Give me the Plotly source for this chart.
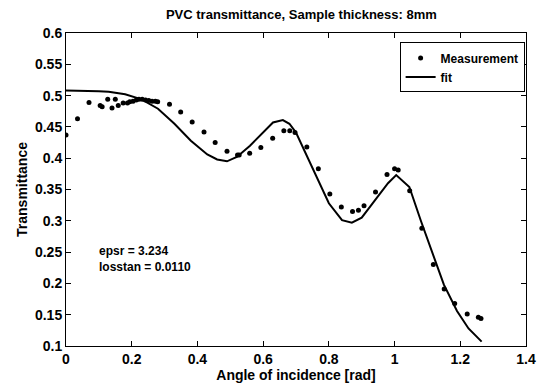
import plotly.graph_objects as go

# Measurement points
meas_x = [0.0, 0.035, 0.07, 0.104, 0.11, 0.127, 0.14, 0.15, 0.159, 0.174, 0.187, 0.194,
          0.204, 0.214, 0.222, 0.232, 0.242, 0.252, 0.262, 0.272, 0.279, 0.315, 0.349,
          0.384, 0.42, 0.454, 0.49, 0.522, 0.527, 0.559, 0.593, 0.629, 0.663, 0.681,
          0.697, 0.733, 0.768, 0.803, 0.838, 0.872, 0.89, 0.907, 0.942, 0.977, 1.0,
          1.011, 1.046, 1.083, 1.118, 1.151, 1.183, 1.221, 1.255, 1.263]
meas_y = [0.437, 0.463, 0.489, 0.484, 0.482, 0.494, 0.480, 0.494, 0.484, 0.488, 0.488, 0.490,
          0.491, 0.493, 0.494, 0.494, 0.493, 0.492, 0.491, 0.491, 0.490, 0.486, 0.474,
          0.458, 0.442, 0.425, 0.411, 0.405, 0.405, 0.408, 0.417, 0.432, 0.444, 0.444,
          0.441, 0.418, 0.383, 0.343, 0.322, 0.315, 0.317, 0.324, 0.346, 0.374, 0.383,
          0.381, 0.348, 0.288, 0.230, 0.191, 0.168, 0.151, 0.146, 0.144]

# Fit curve
fit_x = [0.0, 0.05, 0.1, 0.13, 0.18, 0.23, 0.28, 0.33, 0.38, 0.43, 0.46, 0.49, 0.52,
         0.56, 0.60, 0.63, 0.66, 0.68, 0.70, 0.73, 0.76, 0.80, 0.84, 0.87, 0.90, 0.94,
         0.98, 1.005, 1.045, 1.08, 1.12, 1.15, 1.19, 1.225, 1.265]
fit_y = [0.508, 0.508, 0.507, 0.506, 0.502, 0.494, 0.479, 0.455, 0.428, 0.406, 0.398,
         0.395, 0.402, 0.420, 0.441, 0.457, 0.461, 0.455, 0.441, 0.407, 0.372, 0.328,
         0.301, 0.297, 0.305, 0.333, 0.360, 0.373, 0.354, 0.300, 0.242, 0.198, 0.156,
         0.128, 0.107]

x_ticks = [0, 0.2, 0.4, 0.6, 0.8, 1.0, 1.2, 1.4]
x_tick_labels = ["0", "0.2", "0.4", "0.6", "0.8", "1", "1.2", "1.4"]
y_ticks = [0.1, 0.15, 0.2, 0.25, 0.3, 0.35, 0.4, 0.45, 0.5, 0.55, 0.6]
y_tick_labels = ["0.1", "0.15", "0.2", "0.25", "0.3", "0.35", "0.4", "0.45", "0.5", "0.55", "0.6"]

FONT = "Liberation Sans, Arial, sans-serif"

fig = go.Figure()
fig.add_trace(go.Scatter(x=meas_x, y=meas_y, mode="markers", name="Measurement",
                         marker=dict(color="black", size=5)))
fig.add_trace(go.Scatter(x=fit_x, y=fit_y, mode="lines", name="fit",
                         line=dict(color="black", width=2)))

axis_common = dict(showgrid=False, zeroline=False, showline=True, linecolor="black",
                   linewidth=1, mirror="ticks", ticks="inside", ticklen=5,
                   tickcolor="black",
                   tickfont=dict(family=FONT, size=14, color="black", weight="bold"))

fig.update_xaxes(range=[0, 1.4], tickvals=x_ticks, ticktext=x_tick_labels,
                 title=dict(text="Angle of incidence [rad]", standoff=3,
                            font=dict(family=FONT, size=14, color="black", weight="bold")),
                 **axis_common)
fig.update_yaxes(range=[0.1, 0.6], tickvals=y_ticks, ticktext=y_tick_labels,
                 title=dict(text="Transmittance", standoff=4,
                            font=dict(family=FONT, size=14, color="black", weight="bold")),
                 **axis_common)

fig.add_annotation(x=0.093, y=0.251, xref="x", yref="y", text="epsr = 3.234",
                   showarrow=False, xanchor="left",
                   font=dict(family=FONT, size=12, color="black", weight="bold"))
fig.add_annotation(x=0.093, y=0.226, xref="x", yref="y", text="losstan = 0.0110",
                   showarrow=False, xanchor="left",
                   font=dict(family=FONT, size=12, color="black", weight="bold"))

fig.update_layout(
    width=548, height=392,
    margin=dict(l=66, r=16, t=33, b=42),
    paper_bgcolor="white", plot_bgcolor="white",
    title=dict(text="PVC transmittance, Sample thickness: 8mm", x=0.55, xanchor="center",
               y=0.962, yanchor="middle",
               font=dict(family=FONT, size=13, color="black", weight="bold")),
    legend=dict(x=0.997, y=0.97, xanchor="right", yanchor="top",
                bordercolor="black", borderwidth=1, bgcolor="white",
                font=dict(family=FONT, size=12, color="black", weight="bold"),
                tracegroupgap=0, itemwidth=30),
    showlegend=True,
)

fig.write_html("out.html")
